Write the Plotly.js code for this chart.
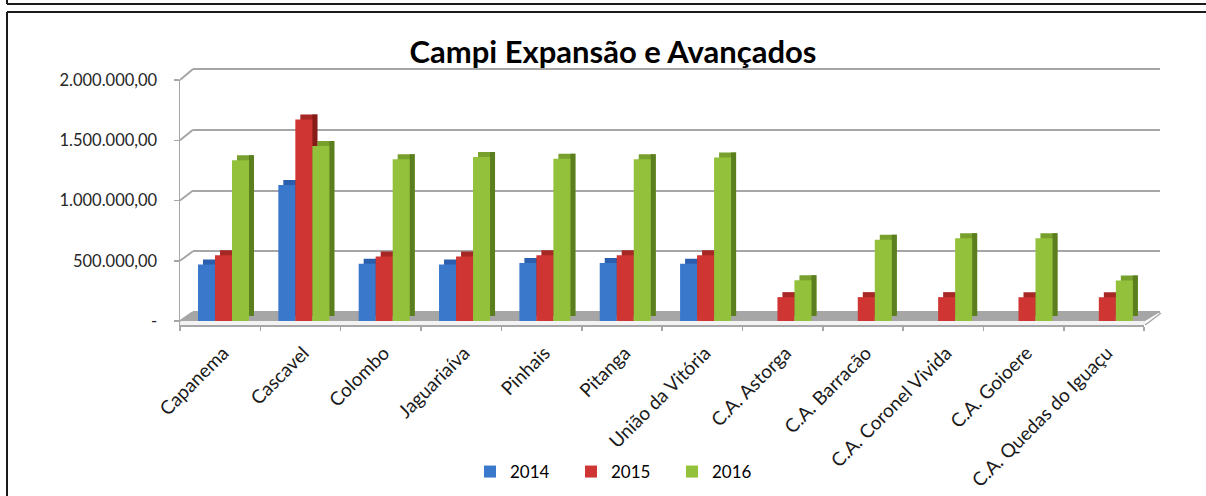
<!DOCTYPE html>
<html><head><meta charset="utf-8">
<script src="https://cdn.plot.ly/plotly-3.0.1.min.js"></script>
<style>html,body{margin:0;padding:0;background:#fff;overflow:hidden}#chart{width:1206px;height:496px;}</style>
</head><body><div id="chart"></div>
<script>
// ---- data ----
const categories = ['Capanema','Cascavel','Colombo','Jaguariaíva','Pinhais','Pitanga','União da Vitória','C.A. Astorga','C.A. Barracão','C.A. Coronel Vivida','C.A. Goioere','C.A. Quedas do Iguaçu'];
const values2014 = [468000,1128000,476000,468000,481000,481000,476000,0,0,0,0,0];
const values2015 = [545000,1672000,536000,536000,545000,545000,545000,198000,198000,198000,198000,198000];
const values2016 = [1334000,1452000,1342000,1361000,1347000,1342000,1356000,338000,674000,687000,687000,336000];
const seriesNames = ['2014','2015','2016'];
const yTickVals = [0,500000,1000000,1500000,2000000];
const yTickText = ['-','500.000,00','1.000.000,00','1.500.000,00','2.000.000,00'];
const chartTitle = 'Campi Expansão e Avançados';

// ---- style / geometry ----
const W = 1206, H = 496;
const fx = p => p / W, fy = p => 1 - p / H;
const front = {left:180, right:1144.2, top:80, zero:321, bottom:325};
const back = {left:193, right:1160, top:69, zero:312};
const yMax = 2000000;
const pxPerUnit = (front.zero - front.top) / yMax;
const yMin = -(front.bottom - front.zero) / pxPerUnit;
const backPx = (back.zero - back.top) / yMax;
const catPx = (front.right - front.left) / categories.length;
const barW = 17 / catPx, shiftX = 3.3 / catPx, depX = 5 / catPx, depY = 5 / pxPerUnit;
const colFront = ['#3a78cc','#cf3532','#93c13c'];
const colTop = ['#2b5fae','#a62724','#77a02c'];
const colSide = ['#1f4a88','#861c1a','#5b7e1e'];
const allValues = [values2014, values2015, values2016];
const yFront = v => front.zero - v * pxPerUnit;
const yBack = v => back.zero - v * backPx;

const traces = [];
// back wall subplot (gridlines only)
traces.push({type:'scatter', x:[null], y:[null], xaxis:'x', yaxis:'y', showlegend:false, hoverinfo:'skip'});
// top faces
allValues.forEach((vals, i) => {
  traces.push({type:'bar', x:categories, y:vals, base:depY, xaxis:'x2', yaxis:'y2',
    offset:-1.5*barW + shiftX + i*barW + depX, width:barW,
    marker:{color:colTop[i], line:{width:0}}, showlegend:false, hoverinfo:'skip'});
});
// side faces
allValues.forEach((vals, i) => {
  traces.push({type:'bar', x:categories, y:vals, base:depY, xaxis:'x2', yaxis:'y2',
    offset:-1.5*barW + shiftX + i*barW + barW, width:depX,
    marker:{color:colSide[i], line:{width:0}}, showlegend:false, hoverinfo:'skip'});
});
// front faces
allValues.forEach((vals, i) => {
  traces.push({type:'bar', name:seriesNames[i], x:categories, y:vals, xaxis:'x2', yaxis:'y2',
    offset:-1.5*barW + shiftX + i*barW, width:barW,
    marker:{color:colFront[i], line:{width:0}}});
});

const shapes = [];
const grey = '#a6a6a6';
// floor
shapes.push({type:'path', xref:'paper', yref:'paper', layer:'below', line:{width:0}, fillcolor:grey,
  path:`M${fx(back.left)},${fy(back.zero)} L${fx(back.right)},${fy(back.zero)} L${fx(front.right+1)},${fy(front.zero)} L${fx(front.left)},${fy(front.zero)} Z`});
shapes.push({type:'path', xref:'paper', yref:'paper', layer:'below', line:{width:0}, fillcolor:'#f3f3f3',
  path:`M${fx(front.left)},${fy(front.zero)} L${fx(front.right+1)},${fy(front.zero)} L${fx(front.right+1)},${fy(front.bottom)} L${fx(front.left)},${fy(front.bottom)} Z`});
shapes.push({type:'line', xref:'paper', yref:'paper', layer:'below', line:{color:grey, width:1.5},
  x0:fx(front.right+1), y0:fy(front.bottom), x1:fx(back.right+1), y1:fy(back.zero+1)});
// left wall connectors
yTickVals.forEach(v => {
  shapes.push({type:'line', xref:'paper', yref:'paper', layer:'below', line:{color:grey, width:2},
    x0:fx(front.left), y0:fy(yFront(v)), x1:fx(back.left), y1:fy(yBack(v))});
});
// frame
const frame = '#1a1a1a';
shapes.push({type:'line', xref:'paper', yref:'paper', line:{color:frame, width:2}, x0:fx(7), y0:fy(4), x1:1, y1:fy(4)});
shapes.push({type:'line', xref:'paper', yref:'paper', line:{color:frame, width:2}, x0:fx(7), y0:1, x1:fx(7), y1:fy(4)});
shapes.push({type:'line', xref:'paper', yref:'paper', line:{color:frame, width:2}, x0:fx(7), y0:fy(12), x1:1, y1:fy(12)});
shapes.push({type:'line', xref:'paper', yref:'paper', line:{color:frame, width:2}, x0:fx(7), y0:fy(12), x1:fx(7), y1:0});

const pad = 4; // px of slack so the edge gridlines are kept
const layout = {
  width:W, height:H, margin:{l:0,r:0,t:0,b:0,pad:0},
  paper_bgcolor:'#ffffff', plot_bgcolor:'rgba(0,0,0,0)',
  separators:',.',
  font:{family:'Lato, sans-serif', color:'#262626'},
  title:{text:'<b>'+chartTitle+'</b>', font:{family:'Lato', size:31, color:'#000'},
    x:fx(613), xanchor:'center', y:fy(52), yanchor:'middle', xref:'paper', yref:'paper'},
  barmode:'overlay',
  hovermode:false,
  showlegend:true,
  legend:{orientation:'h', x:fx(470), xanchor:'left', y:fy(472), yanchor:'middle',
    entrywidth:56, entrywidthmode:'pixels', font:{size:17, color:'#000'}, traceorder:'normal', bgcolor:'rgba(0,0,0,0)'},
  xaxis:{domain:[fx(back.left), fx(back.right)], range:[0,1], visible:false, fixedrange:true},
  yaxis:{domain:[fy(back.zero + pad), fy(back.top - pad)], range:[-pad/backPx, yMax + pad/backPx], anchor:'x', tickvals:yTickVals, showticklabels:false,
    ticks:'', showgrid:true, gridcolor:grey, gridwidth:2, zeroline:false, showline:false, fixedrange:true},
  xaxis2:{domain:[fx(front.left), fx(front.right)], anchor:'y2', type:'category', categoryorder:'array', categoryarray:categories,
    range:[-0.5, categories.length-0.5], tickson:'boundaries', ticks:'outside', ticklen:4, tickwidth:1.5, tickcolor:grey,
    showline:true, linecolor:grey, linewidth:1.5, showgrid:false, zeroline:false, tickangle:-45,
    ticklabelstandoff:8, ticklabelshift:3,
    tickfont:{size:19, color:'#1a1a1a'}, automargin:false, fixedrange:true},
  yaxis2:{domain:[fy(front.bottom), fy(front.top)], anchor:'x2', range:[yMin, yMax], tickvals:yTickVals, ticktext:yTickText,
    ticks:'outside', ticklen:5, tickwidth:1.5, tickcolor:grey, showline:true, linecolor:grey, linewidth:1.5,
    showgrid:false, zeroline:false, tickfont:{size:16.5, color:'#262626'}, ticklabelstandoff:13, automargin:false, fixedrange:true},
  shapes:shapes
};
Plotly.newPlot('chart', traces, layout, {staticPlot:true, displayModeBar:false});
</script></body></html>
